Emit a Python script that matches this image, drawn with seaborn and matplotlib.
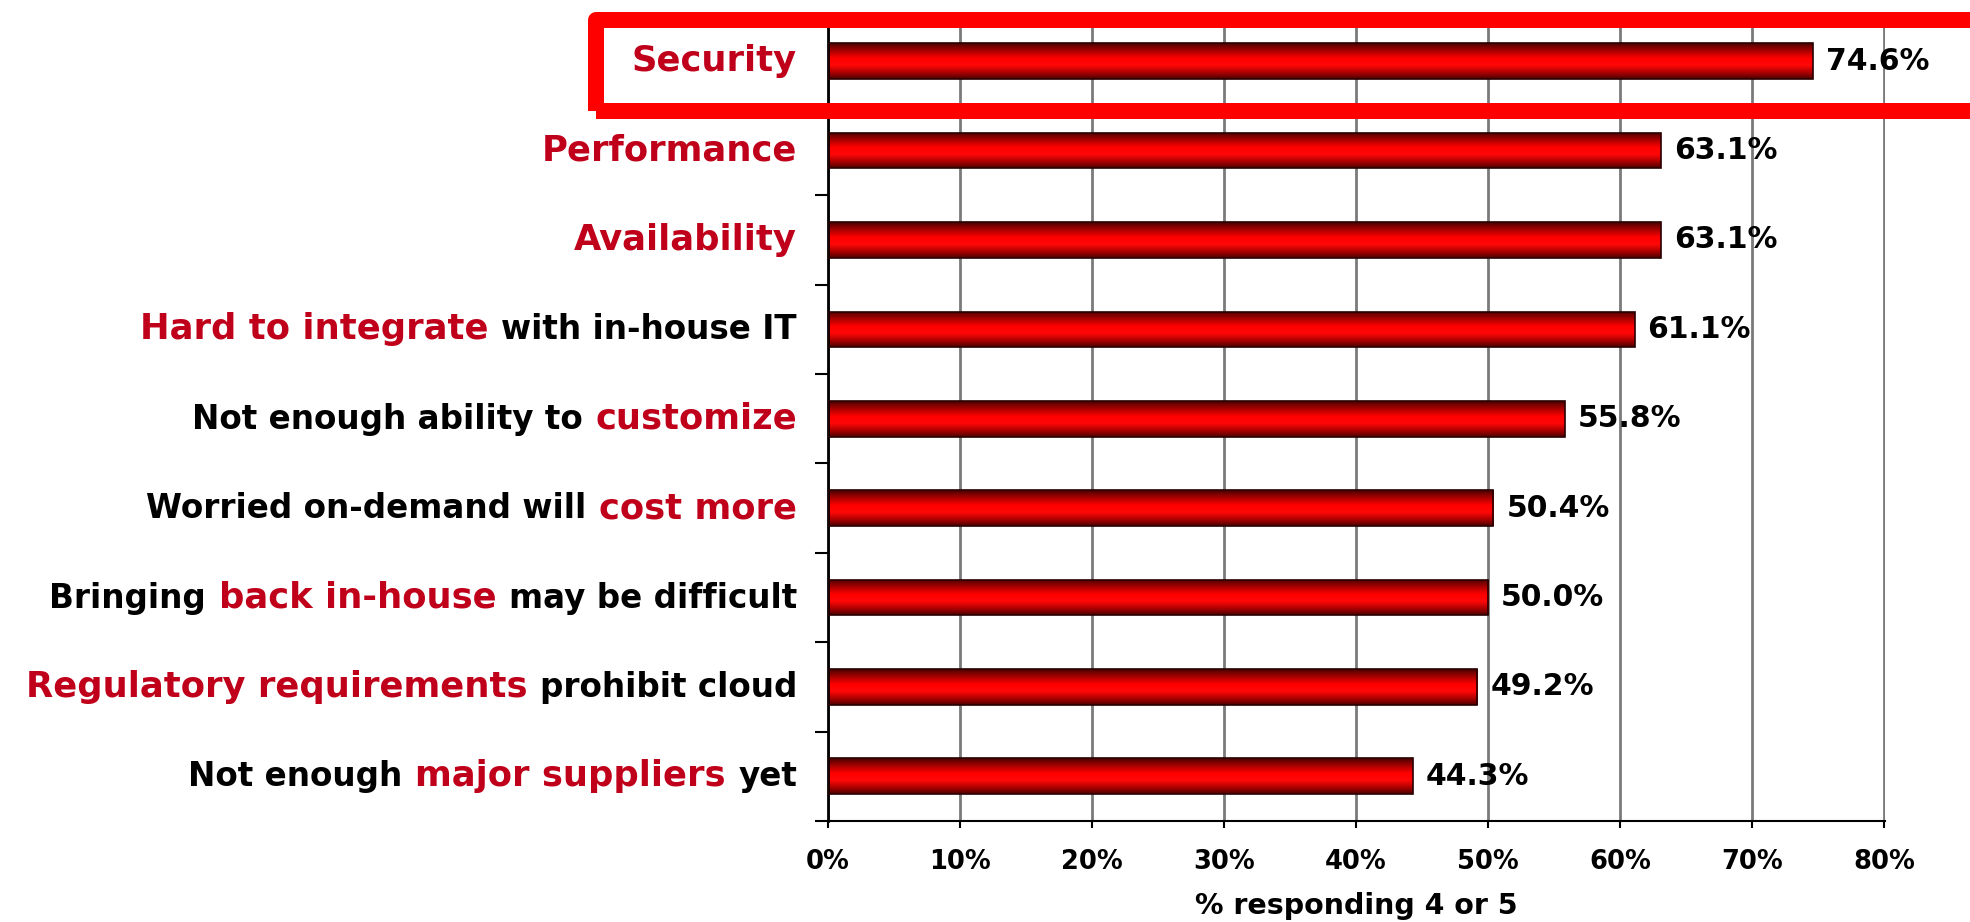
import numpy as np
import pandas as pd
import matplotlib
matplotlib.use("Agg")
import matplotlib.pyplot as plt
import seaborn as sns
from matplotlib.colors import LinearSegmentedColormap
from matplotlib.offsetbox import TextArea, HPacker, AnnotationBbox
from matplotlib.patches import Rectangle

# survey data, top to bottom
categories = [
    "Security",
    "Performance",
    "Availability",
    "Hard to integrate with in-house IT",
    "Not enough ability to customize",
    "Worried on-demand will cost more",
    "Bringing back in-house may be difficult",
    "Regulatory requirements prohibit cloud",
    "Not enough major suppliers yet",
]
values = [74.6, 63.1, 63.1, 61.1, 55.8, 50.4, 50.0, 49.2, 44.3]

# label pieces: (text, highlighted)
label_parts = [
    [("Security", True)],
    [("Performance", True)],
    [("Availability", True)],
    [("Hard to integrate", True), ("with in-house IT", False)],
    [("Not enough ability to", False), ("customize", True)],
    [("Worried on-demand will", False), ("cost more", True)],
    [("Bringing", False), ("back in-house", True), ("may be difficult", False)],
    [("Regulatory requirements", True), ("prohibit cloud", False)],
    [("Not enough", False), ("major suppliers", True), ("yet", False)],
]
x_ticks = [0, 10, 20, 30, 40, 50, 60, 70, 80]
x_label = "% responding 4 or 5"

RED_TEXT = "#C0001A"
PX = 72 / 100  # points per pixel at dpi 100


def draw_chart():
    sns.set_theme(style="white")
    plt.rcParams["font.family"] = ["DejaVu Sans"]

    df = pd.DataFrame({"category": categories, "value": values})

    fig = plt.figure(figsize=(19.7, 9.22), dpi=100)
    ax = fig.add_axes([0.4203, 0.1095, 0.9569 - 0.4203, 0.9821 - 0.1095])

    sns.barplot(data=df, x="value", y="category", orient="h", color="red",
                width=0.4, ax=ax, zorder=3)

    # cylinder-like shading inside each bar
    cmap = LinearSegmentedColormap.from_list("bar", [
        (0.0, "#4a0000"), (0.15, "#900000"), (0.42, "#ff0000"),
        (0.62, "#ff0808"), (0.85, "#a00000"), (1.0, "#500000")])
    grad = np.linspace(0, 1, 64).reshape(-1, 1)
    for patch in ax.patches:
        x0, y0 = patch.get_x(), patch.get_y()
        w, h = patch.get_width(), patch.get_height()
        im = ax.imshow(grad, extent=(x0, x0 + w, y0, y0 + h), origin="lower",
                       aspect="auto", cmap=cmap, zorder=2.5)
        im.set_clip_path(patch)
        patch.set_facecolor("none")
        patch.set_edgecolor("#2a0000")
        patch.set_linewidth(1.2)

    ax.set_xlim(0, 80.08)
    ax.set_ylim(len(categories) - 0.5, -0.5)

    ax.bar_label(ax.containers[0], labels=[f"{v:.1f}%" for v in values],
                 padding=13 * PX, fontsize=21.5, fontweight="bold", color="black")

    # axes styling
    ax.set_xticks(x_ticks)
    ax.set_xticklabels([f"{t}%" for t in x_ticks], fontsize=18.5,
                       fontweight="bold", color="black")
    ax.xaxis.grid(True, color="#7a7a7a", linewidth=2)
    ax.yaxis.grid(False)
    ax.set_axisbelow(True)
    for side in ["top", "right"]:
        ax.spines[side].set_visible(False)
    ax.spines["left"].set_color("black")
    ax.spines["left"].set_linewidth(2)
    ax.spines["bottom"].set_color("black")
    ax.spines["bottom"].set_linewidth(1.5)
    ax.tick_params(axis="x", bottom=True, length=7 * PX, width=1.5, color="black",
                   direction="out", pad=15)
    ax.set_yticks([])
    ax.set_yticks(np.arange(len(categories) + 1) - 0.5, minor=True)
    ax.tick_params(axis="y", which="minor", left=True, length=13 * PX, width=1.5,
                   color="black", direction="out")
    ax.set_ylabel("")
    ax.set_xlabel(x_label, fontsize=20.5, fontweight="bold", color="black",
                  labelpad=12)

    # two-colour category labels
    for i, parts in enumerate(label_parts):
        boxes = []
        for text, hot in parts:
            props = dict(color=RED_TEXT if hot else "black",
                         fontsize=25.5 if hot else 23.5, fontweight="bold")
            boxes.append(TextArea(text, textprops=props))
        pack = HPacker(children=boxes, align="baseline", pad=0, sep=9)
        ab = AnnotationBbox(pack, (0, i), xycoords=("axes fraction", "data"),
                            xybox=(-31 * PX, 0), boxcoords="offset points",
                            box_alignment=(1, 0.5), frameon=False, pad=0,
                            annotation_clip=False)
        ax.add_artist(ab)

    # highlight box around the top item
    fig.add_artist(Rectangle((596 / 1970, 1 - 111 / 922), (1976 - 596) / 1970,
                             (111 - 20) / 922, transform=fig.transFigure,
                             fill=False, edgecolor="#FF0000", linewidth=16 * PX,
                             joinstyle="round", clip_on=False, zorder=10))

    fig.savefig("out.png", dpi=100)


if __name__ == "__main__":
    draw_chart()
